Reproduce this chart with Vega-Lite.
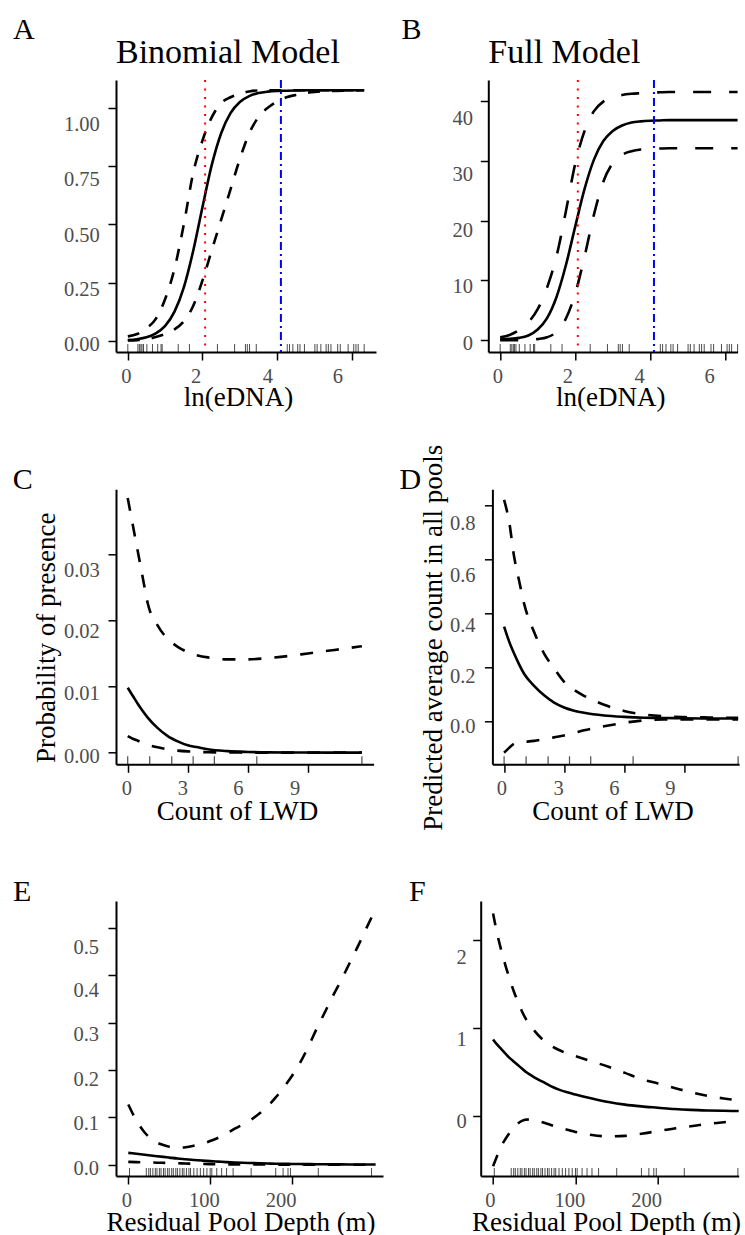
{
  "$schema": "https://vega.github.io/schema/vega-lite/v6.json",
  "background": "white",
  "padding": {"left": 12, "top": 14, "right": 0, "bottom": 0},
  "spacing": 32.3,
  "datasets": {
    "A": [
      {"x":0,"fit":0.004,"lo":0.002,"hi":0.02},
      {"x":0.25,"fit":0.008,"lo":0.004,"hi":0.03},
      {"x":0.5,"fit":0.016,"lo":0.008,"hi":0.055},
      {"x":0.75,"fit":0.033,"lo":0.017,"hi":0.095},
      {"x":1,"fit":0.065,"lo":0.03,"hi":0.18},
      {"x":1.25,"fit":0.126,"lo":0.05,"hi":0.31},
      {"x":1.5,"fit":0.23,"lo":0.085,"hi":0.5},
      {"x":1.75,"fit":0.386,"lo":0.15,"hi":0.72},
      {"x":2,"fit":0.575,"lo":0.26,"hi":0.86},
      {"x":2.25,"fit":0.756,"lo":0.39,"hi":0.96},
      {"x":2.5,"fit":0.891,"lo":0.52,"hi":1.02},
      {"x":2.75,"fit":0.977,"lo":0.65,"hi":1.045},
      {"x":3,"fit":1.025,"lo":0.78,"hi":1.06},
      {"x":3.25,"fit":1.05,"lo":0.89,"hi":1.07},
      {"x":3.5,"fit":1.063,"lo":0.96,"hi":1.074},
      {"x":3.75,"fit":1.069,"lo":1.0,"hi":1.075},
      {"x":4,"fit":1.072,"lo":1.027,"hi":1.075},
      {"x":4.25,"fit":1.073,"lo":1.045,"hi":1.075},
      {"x":4.5,"fit":1.074,"lo":1.055,"hi":1.075},
      {"x":4.75,"fit":1.075,"lo":1.063,"hi":1.075},
      {"x":5,"fit":1.075,"lo":1.068,"hi":1.075},
      {"x":5.5,"fit":1.075,"lo":1.072,"hi":1.075},
      {"x":6,"fit":1.075,"lo":1.074,"hi":1.075},
      {"x":6.33,"fit":1.075,"lo":1.075,"hi":1.075}
    ],
    "B": [
      {"x":0,"fit":0.2,"lo":0.0,"hi":0.5},
      {"x":0.25,"fit":0.25,"lo":0.0,"hi":0.9},
      {"x":0.5,"fit":0.4,"lo":0.0,"hi":1.7},
      {"x":0.75,"fit":0.8,"lo":0.05,"hi":3.0},
      {"x":1,"fit":1.8,"lo":0.2,"hi":5.2},
      {"x":1.25,"fit":3.7,"lo":0.5,"hi":8.8},
      {"x":1.5,"fit":7.2,"lo":1.4,"hi":14.0},
      {"x":1.75,"fit":12.5,"lo":3.6,"hi":21.5},
      {"x":2,"fit":19.0,"lo":7.8,"hi":29.5},
      {"x":2.25,"fit":25.3,"lo":14.0,"hi":35.0},
      {"x":2.5,"fit":30.2,"lo":21.0,"hi":38.3},
      {"x":2.75,"fit":33.3,"lo":26.5,"hi":39.9},
      {"x":3,"fit":35.0,"lo":29.6,"hi":40.6},
      {"x":3.25,"fit":35.9,"lo":31.0,"hi":41.0},
      {"x":3.5,"fit":36.4,"lo":31.6,"hi":41.2},
      {"x":3.75,"fit":36.6,"lo":31.9,"hi":41.3},
      {"x":4,"fit":36.7,"lo":32.0,"hi":41.4},
      {"x":4.25,"fit":36.75,"lo":32.05,"hi":41.45},
      {"x":4.5,"fit":36.8,"lo":32.1,"hi":41.5},
      {"x":5,"fit":36.8,"lo":32.1,"hi":41.5},
      {"x":5.5,"fit":36.8,"lo":32.1,"hi":41.5},
      {"x":6,"fit":36.8,"lo":32.1,"hi":41.5},
      {"x":6.33,"fit":36.8,"lo":32.1,"hi":41.5}
    ],
    "C": [
      {"x":0,"fit":0.0098,"lo":0.0025,"hi":0.0385},
      {"x":0.25,"fit":0.0086,"lo":0.0021,"hi":0.0345},
      {"x":0.5,"fit":0.0074,"lo":0.0018,"hi":0.0305},
      {"x":0.75,"fit":0.0063,"lo":0.0015,"hi":0.0265},
      {"x":1,"fit":0.0053,"lo":0.0012,"hi":0.0226},
      {"x":1.5,"fit":0.0037,"lo":0.0008,"hi":0.0192},
      {"x":2,"fit":0.0025,"lo":0.0005,"hi":0.0172},
      {"x":2.5,"fit":0.0017,"lo":0.0003,"hi":0.016},
      {"x":3,"fit":0.0011,"lo":0.00018,"hi":0.0152},
      {"x":3.5,"fit":0.0008,"lo":0.0001,"hi":0.0147},
      {"x":4,"fit":0.0005,"lo":0.00006,"hi":0.0144},
      {"x":5,"fit":0.00022,"lo":0.00002,"hi":0.0141},
      {"x":6,"fit":0.0001,"lo":0.0,"hi":0.0141},
      {"x":7,"fit":0.00004,"lo":0.0,"hi":0.0143},
      {"x":8,"fit":0.00002,"lo":0.0,"hi":0.0146},
      {"x":9,"fit":0.00001,"lo":0.0,"hi":0.015},
      {"x":10,"fit":0.0,"lo":0.0,"hi":0.0154},
      {"x":11,"fit":0.0,"lo":0.0,"hi":0.0158},
      {"x":11.7,"fit":0.0,"lo":0.0,"hi":0.0161}
    ],
    "D": [
      {"x":0,"fit":0.35,"lo":-0.118,"hi":0.82},
      {"x":0.25,"fit":0.295,"lo":-0.1,"hi":0.74},
      {"x":0.5,"fit":0.25,"lo":-0.085,"hi":0.61},
      {"x":0.75,"fit":0.21,"lo":-0.08,"hi":0.52},
      {"x":1,"fit":0.175,"lo":-0.078,"hi":0.435},
      {"x":1.5,"fit":0.13,"lo":-0.074,"hi":0.33},
      {"x":2,"fit":0.095,"lo":-0.068,"hi":0.25},
      {"x":2.5,"fit":0.068,"lo":-0.061,"hi":0.195},
      {"x":3,"fit":0.05,"lo":-0.054,"hi":0.145},
      {"x":3.5,"fit":0.038,"lo":-0.045,"hi":0.115},
      {"x":4,"fit":0.03,"lo":-0.035,"hi":0.093},
      {"x":5,"fit":0.02,"lo":-0.02,"hi":0.06},
      {"x":6,"fit":0.015,"lo":-0.007,"hi":0.037},
      {"x":7,"fit":0.012,"lo":0.002,"hi":0.024},
      {"x":8,"fit":0.011,"lo":0.005,"hi":0.017},
      {"x":9,"fit":0.01,"lo":0.005,"hi":0.014},
      {"x":10,"fit":0.009,"lo":0.005,"hi":0.013},
      {"x":11,"fit":0.0088,"lo":0.005,"hi":0.012},
      {"x":11.7,"fit":0.0085,"lo":0.005,"hi":0.012}
    ],
    "E": [
      {"x":0,"fit":0.025,"lo":0.006,"hi":0.127},
      {"x":10,"fit":0.023,"lo":0.0055,"hi":0.093},
      {"x":20,"fit":0.021,"lo":0.005,"hi":0.068},
      {"x":30,"fit":0.019,"lo":0.0045,"hi":0.052},
      {"x":40,"fit":0.017,"lo":0.004,"hi":0.043},
      {"x":50,"fit":0.015,"lo":0.0035,"hi":0.038},
      {"x":60,"fit":0.013,"lo":0.003,"hi":0.036},
      {"x":70,"fit":0.0115,"lo":0.0025,"hi":0.037},
      {"x":80,"fit":0.01,"lo":0.002,"hi":0.04},
      {"x":90,"fit":0.0087,"lo":0.0016,"hi":0.044},
      {"x":100,"fit":0.0075,"lo":0.0012,"hi":0.05},
      {"x":110,"fit":0.0065,"lo":0.001,"hi":0.057},
      {"x":120,"fit":0.0055,"lo":0.0008,"hi":0.066},
      {"x":130,"fit":0.0047,"lo":0.0006,"hi":0.076},
      {"x":140,"fit":0.004,"lo":0.0005,"hi":0.085},
      {"x":150,"fit":0.0035,"lo":0.0004,"hi":0.095},
      {"x":160,"fit":0.003,"lo":0.0003,"hi":0.108},
      {"x":170,"fit":0.0025,"lo":0.00025,"hi":0.123},
      {"x":180,"fit":0.002,"lo":0.0002,"hi":0.142},
      {"x":190,"fit":0.0018,"lo":0.00015,"hi":0.164},
      {"x":200,"fit":0.0015,"lo":0.0001,"hi":0.188},
      {"x":210,"fit":0.0013,"lo":0.0001,"hi":0.216},
      {"x":220,"fit":0.0011,"lo":0.0001,"hi":0.25},
      {"x":230,"fit":0.001,"lo":0.0,"hi":0.287},
      {"x":240,"fit":0.0008,"lo":0.0,"hi":0.322},
      {"x":250,"fit":0.0007,"lo":0.0,"hi":0.357},
      {"x":260,"fit":0.0006,"lo":0.0,"hi":0.39},
      {"x":270,"fit":0.0005,"lo":0.0,"hi":0.425},
      {"x":280,"fit":0.0004,"lo":0.0,"hi":0.46},
      {"x":290,"fit":0.0004,"lo":0.0,"hi":0.497},
      {"x":302,"fit":0.0003,"lo":0.0,"hi":0.54}
    ],
    "F": [
      {"x":0,"fit":0.87,"lo":-0.57,"hi":2.3},
      {"x":5,"fit":0.81,"lo":-0.45,"hi":2.07},
      {"x":10,"fit":0.76,"lo":-0.34,"hi":1.88},
      {"x":15,"fit":0.71,"lo":-0.26,"hi":1.71},
      {"x":20,"fit":0.66,"lo":-0.19,"hi":1.56},
      {"x":25,"fit":0.62,"lo":-0.13,"hi":1.42},
      {"x":30,"fit":0.58,"lo":-0.085,"hi":1.3},
      {"x":35,"fit":0.54,"lo":-0.055,"hi":1.19},
      {"x":40,"fit":0.5,"lo":-0.04,"hi":1.1},
      {"x":45,"fit":0.47,"lo":-0.038,"hi":1.03},
      {"x":50,"fit":0.44,"lo":-0.045,"hi":0.97},
      {"x":60,"fit":0.39,"lo":-0.07,"hi":0.87},
      {"x":70,"fit":0.34,"lo":-0.1,"hi":0.8},
      {"x":80,"fit":0.3,"lo":-0.13,"hi":0.75},
      {"x":90,"fit":0.27,"lo":-0.155,"hi":0.71},
      {"x":100,"fit":0.245,"lo":-0.18,"hi":0.68},
      {"x":120,"fit":0.2,"lo":-0.215,"hi":0.62},
      {"x":140,"fit":0.16,"lo":-0.23,"hi":0.56},
      {"x":160,"fit":0.13,"lo":-0.225,"hi":0.49},
      {"x":180,"fit":0.11,"lo":-0.2,"hi":0.42},
      {"x":200,"fit":0.095,"lo":-0.17,"hi":0.37},
      {"x":220,"fit":0.08,"lo":-0.14,"hi":0.32},
      {"x":240,"fit":0.07,"lo":-0.115,"hi":0.27},
      {"x":260,"fit":0.064,"lo":-0.09,"hi":0.23},
      {"x":280,"fit":0.06,"lo":-0.07,"hi":0.2},
      {"x":298,"fit":0.057,"lo":-0.05,"hi":0.18}
    ],
    "rugAB": [
      {"x":0},{"x":0.27},{"x":0.31},{"x":0.35},{"x":0.38},{"x":0.42},{"x":0.51},{"x":0.66},{"x":0.8},{"x":0.89},{"x":0.92},{"x":1.35},{"x":1.65},{"x":2.4},{"x":2.86},{"x":3.15},{"x":3.2},{"x":3.26},{"x":3.44},{"x":4.27},{"x":4.33},{"x":4.42},{"x":4.55},{"x":4.61},{"x":4.73},{"x":5.01},{"x":5.07},{"x":5.17},{"x":5.31},{"x":5.37},{"x":5.44},{"x":5.62},{"x":5.69},{"x":5.9},{"x":6.05},{"x":6.11},{"x":6.17},{"x":6.33}
    ],
    "rugCD": [
      {"x":0},{"x":1.1},{"x":2.2},{"x":3.27},{"x":4.33},{"x":6.45},{"x":11.7}
    ],
    "rugEF": [
      {"x":1.5},{"x":22},{"x":25},{"x":27},{"x":30},{"x":33},{"x":35},{"x":38},{"x":40},{"x":43},{"x":45},{"x":48},{"x":50},{"x":53},{"x":55},{"x":58},{"x":60},{"x":63},{"x":66},{"x":68},{"x":71},{"x":74},{"x":76},{"x":80},{"x":84},{"x":88},{"x":92},{"x":96},{"x":100},{"x":102},{"x":108},{"x":114},{"x":120},{"x":128},{"x":150},{"x":180},{"x":189},{"x":195},{"x":198},{"x":232},{"x":297}
    ],
    "vRed": [{"x": 2.07}],
    "vBlue": [{"x": 4.1}]
  },
  "vconcat": [
    {
      "spacing": 25.3,
      "hconcat": [
        {
          "title": {"text": "A", "fontSize": 30, "dx": -103, "offset": -9},
          "vconcat": [
            {
              "width": 260, "height": 272,
              "title": {"text": "Binomial Model", "fontSize": 34, "offset": 9.5},
              "encoding": {
                "x": {"field": "x", "type": "quantitative", "scale": {"domain": [-0.3165, 6.6465], "nice": false, "zero": false},
                      "axis": {"title": "ln(eDNA)", "values": [0, 2, 4, 6], "format": "d", "titleX": 122, "titleY": 53.5, "titleBaseline": "alphabetic",
                               "labelOffset": {"condition": [{"test": "datum.value === 2", "value": -6.8}, {"test": "datum.value === 4", "value": -9.8}, {"test": "datum.value === 6", "value": -14.5}], "value": -2}}}
              },
              "layer": [
                {"data": {"name": "A"}, "mark": {"type": "line", "color": "black", "strokeWidth": 2.6, "strokeDash": [12, 12], "interpolate": "monotone"},
                 "encoding": {
                   "y": {"field": "hi", "type": "quantitative", "scale": {"domain": [-0.047, 1.119], "nice": false, "zero": false},
                         "axis": {"title": null, "values": [0, 0.25, 0.5, 0.75, 1], "format": ".2f", "labelPadding": 8.7,
                                  "labelOffset": {"condition": [{"test": "datum.value === 0.25", "value": 6.5}, {"test": "datum.value === 0.5", "value": 10.8}, {"test": "datum.value === 0.75", "value": 13.8}, {"test": "datum.value === 1", "value": 16.8}], "value": 3.5}}}}},
                {"data": {"name": "A"}, "mark": {"type": "line", "color": "black", "strokeWidth": 2.6, "strokeDash": [12, 12], "interpolate": "monotone"},
                 "encoding": {"y": {"field": "lo", "type": "quantitative", "axis": {"title": null}}}},
                {"data": {"name": "A"}, "mark": {"type": "line", "color": "black", "strokeWidth": 2.6, "interpolate": "monotone"},
                 "encoding": {"y": {"field": "fit", "type": "quantitative", "axis": {"title": null}}}},
                {"data": {"name": "rugAB"}, "mark": {"type": "tick", "orient": "vertical", "size": 8, "thickness": 1, "color": "black", "yOffset": -4},
                 "encoding": {"y": {"value": "height"}}},
                {"data": {"name": "vRed"}, "mark": {"type": "rule", "color": "#ff0000", "strokeWidth": 2, "strokeDash": [2, 6.5]}, "encoding": {}},
                {"data": {"name": "vBlue"}, "mark": {"type": "rule", "color": "#0000ff", "strokeWidth": 2, "strokeDash": [8, 4, 2, 4]}, "encoding": {}}
              ]
            }
          ]
        },
        {
          "title": {"text": "B", "fontSize": 30, "dx": -86.7, "offset": -9},
          "vconcat": [
            {
              "width": 249.3, "height": 272,
              "title": {"text": "Full Model", "fontSize": 34, "offset": 9.5},
              "encoding": {
                "x": {"field": "x", "type": "quantitative", "scale": {"domain": [-0.3165, 6.33], "nice": false, "zero": false},
                      "axis": {"title": "ln(eDNA)", "values": [0, 2, 4, 6], "format": "d", "titleX": 122, "titleY": 53.5, "titleBaseline": "alphabetic",
                               "labelOffset": {"condition": [{"test": "datum.value === 2", "value": -7.9}, {"test": "datum.value === 4", "value": -11.2}, {"test": "datum.value === 6", "value": -16.2}], "value": -2.9}}}
              },
              "layer": [
                {"data": {"name": "B"}, "mark": {"type": "line", "color": "black", "strokeWidth": 2.6, "strokeDash": [18, 18], "interpolate": "monotone"},
                 "encoding": {
                   "y": {"field": "hi", "type": "quantitative", "scale": {"domain": [-1.956, 43.51], "nice": false, "zero": false},
                         "axis": {"title": null, "values": [0, 10, 20, 30, 40], "format": "d", "labelPadding": 7.7,
                                  "labelOffset": {"condition": [{"test": "datum.value === 10", "value": 5.8}, {"test": "datum.value === 20", "value": 10.1}, {"test": "datum.value === 30", "value": 13.2}, {"test": "datum.value === 40", "value": 17.8}], "value": 3.2}}}}},
                {"data": {"name": "B"}, "mark": {"type": "line", "color": "black", "strokeWidth": 2.6, "strokeDash": [18, 18], "interpolate": "monotone"},
                 "encoding": {"y": {"field": "lo", "type": "quantitative", "axis": {"title": null}}}},
                {"data": {"name": "B"}, "mark": {"type": "line", "color": "black", "strokeWidth": 2.6, "interpolate": "monotone"},
                 "encoding": {"y": {"field": "fit", "type": "quantitative", "axis": {"title": null}}}},
                {"data": {"name": "rugAB"}, "mark": {"type": "tick", "orient": "vertical", "size": 8, "thickness": 1, "color": "black", "yOffset": -4},
                 "encoding": {"y": {"value": "height"}}},
                {"data": {"name": "vRed"}, "mark": {"type": "rule", "color": "#ff0000", "strokeWidth": 2, "strokeDash": [2, 6.5]}, "encoding": {}},
                {"data": {"name": "vBlue"}, "mark": {"type": "rule", "color": "#0000ff", "strokeWidth": 2, "strokeDash": [8, 4, 2, 4]}, "encoding": {}}
              ]
            }
          ]
        }
      ]
    },
    {
      "spacing": 44.7,
      "vconcat": [
        {
          "spacing": 118.4,
          "bounds": "flush",
          "hconcat": [
            {
              "width": 257.6, "height": 275,
              "title": {"text": "C", "fontSize": 30, "dx": -103.3, "offset": -5.6},
              "encoding": {
                "x": {"field": "x", "type": "quantitative", "scale": {"domain": [-0.585, 12.285], "nice": false, "zero": false},
                      "axis": {"title": "Count of LWD", "values": [0, 3, 6, 9], "format": "d", "titleX": 121, "titleY": 55.5, "titleBaseline": "alphabetic",
                               "labelOffset": {"condition": [{"test": "datum.value === 3", "value": -5.4}, {"test": "datum.value === 6", "value": -9.9}, {"test": "datum.value === 9", "value": -13.3}], "value": -1.3}}}
              },
              "layer": [
                {"data": {"name": "C"}, "mark": {"type": "line", "color": "black", "strokeWidth": 2.6, "strokeDash": [13, 13], "interpolate": "monotone"},
                 "encoding": {
                   "y": {"field": "hi", "type": "quantitative", "scale": {"domain": [-0.00177, 0.03983], "nice": false, "zero": false},
                         "axis": {"title": "Probability of presence", "values": [0, 0.01, 0.02, 0.03], "format": ".2f", "labelPadding": 8.7,
                                  "labelOffset": {"condition": [{"test": "datum.value === 0.01", "value": 6.8}, {"test": "datum.value === 0.02", "value": 10.8}, {"test": "datum.value === 0.03", "value": 15.8}], "value": 4.1},
                                  "titleX": -62, "titleY": 148, "titleBaseline": "alphabetic", "titleAngle": 270, "titleAlign": "center"}}}},
                {"data": {"name": "C"}, "mark": {"type": "line", "color": "black", "strokeWidth": 2.6, "strokeDash": [13, 13], "interpolate": "monotone"},
                 "encoding": {"y": {"field": "lo", "type": "quantitative", "axis": {"title": "Probability of presence"}}}},
                {"data": {"name": "C"}, "mark": {"type": "line", "color": "black", "strokeWidth": 2.6, "interpolate": "monotone"},
                 "encoding": {"y": {"field": "fit", "type": "quantitative", "axis": {"title": "Probability of presence"}}}},
                {"data": {"name": "rugCD"}, "mark": {"type": "tick", "orient": "vertical", "size": 8, "thickness": 1.2, "color": "black", "yOffset": -4},
                 "encoding": {"y": {"value": "height"}}}
              ]
            },
            {
              "width": 246.7, "height": 275,
              "title": {"text": "D", "fontSize": 30, "dx": -93, "offset": -50.5},
              "encoding": {
                "x": {"field": "x", "type": "quantitative", "scale": {"domain": [-0.585, 11.75], "nice": false, "zero": false},
                      "axis": {"title": "Count of LWD", "values": [0, 3, 6, 9], "format": "d", "titleX": 120, "titleY": 55.5, "titleBaseline": "alphabetic",
                               "labelOffset": {"condition": [{"test": "datum.value === 3", "value": -6}, {"test": "datum.value === 6", "value": -10.3}, {"test": "datum.value === 9", "value": -14.3}], "value": -2.7}}}
              },
              "layer": [
                {"data": {"name": "D"}, "mark": {"type": "line", "color": "black", "strokeWidth": 2.6, "strokeDash": [13, 13], "interpolate": "monotone"},
                 "encoding": {
                   "y": {"field": "hi", "type": "quantitative", "scale": {"domain": [-0.161, 0.8594], "nice": false, "zero": false},
                         "axis": {"title": "Predicted average count in all pools", "values": [0, 0.2, 0.4, 0.6, 0.8], "format": ".1f", "labelPadding": 9.3,
                                  "labelOffset": {"condition": [{"test": "datum.value === 0.2", "value": 9.1}, {"test": "datum.value === 0.4", "value": 12.8}, {"test": "datum.value === 0.6", "value": 15.8}, {"test": "datum.value === 0.8", "value": 18.1}], "value": 5.8},
                                  "titleX": -51, "titleY": 148, "titleBaseline": "alphabetic", "titleAngle": 270, "titleAlign": "center"}}}},
                {"data": {"name": "D"}, "mark": {"type": "line", "color": "black", "strokeWidth": 2.6, "strokeDash": [13, 13], "interpolate": "monotone"},
                 "encoding": {"y": {"field": "lo", "type": "quantitative", "axis": {"title": "Predicted average count in all pools"}}}},
                {"data": {"name": "D"}, "mark": {"type": "line", "color": "black", "strokeWidth": 2.6, "interpolate": "monotone"},
                 "encoding": {"y": {"field": "fit", "type": "quantitative", "axis": {"title": "Predicted average count in all pools"}}}},
                {"data": {"name": "rugCD"}, "mark": {"type": "tick", "orient": "vertical", "size": 8, "thickness": 1.2, "color": "black", "yOffset": -4},
                 "encoding": {"y": {"value": "height"}}}
              ]
            }
          ]
        },
        {
          "spacing": 97.7,
          "bounds": "flush",
          "hconcat": [
            {
              "width": 267, "height": 275,
              "title": {"text": "E", "fontSize": 30, "dx": -103, "offset": -5.6},
              "encoding": {
                "x": {"field": "x", "type": "quantitative", "scale": {"domain": [-15, 311], "nice": false, "zero": false},
                      "axis": {"title": "Residual Pool Depth (m)", "values": [0, 100, 200], "format": "d", "titleX": 124.5, "titleY": 54.3, "titleBaseline": "alphabetic",
                               "labelOffset": {"condition": [{"test": "datum.value === 100", "value": -6.2}, {"test": "datum.value === 200", "value": -11.4}], "value": -1.9}}}
              },
              "layer": [
                {"data": {"name": "E"}, "mark": {"type": "line", "color": "black", "strokeWidth": 2.6, "strokeDash": [12, 13], "interpolate": "monotone"},
                 "encoding": {
                   "y": {"field": "hi", "type": "quantitative", "scale": {"domain": [-0.0239, 0.557], "nice": false, "zero": false},
                         "axis": {"title": null, "values": [0, 0.1, 0.2, 0.3, 0.4, 0.5], "format": ".1f", "labelPadding": 9.4,
                                  "labelOffset": {"condition": [{"test": "datum.value === 0.1", "value": 6.5}, {"test": "datum.value === 0.2", "value": 9.5}, {"test": "datum.value === 0.3", "value": 12.2}, {"test": "datum.value === 0.4", "value": 14.8}, {"test": "datum.value === 0.5", "value": 19.1}], "value": 3.4}}}}},
                {"data": {"name": "E"}, "mark": {"type": "line", "color": "black", "strokeWidth": 2.6, "strokeDash": [12, 13], "interpolate": "monotone"},
                 "encoding": {"y": {"field": "lo", "type": "quantitative", "axis": {"title": null}}}},
                {"data": {"name": "E"}, "mark": {"type": "line", "color": "black", "strokeWidth": 2.6, "interpolate": "monotone"},
                 "encoding": {"y": {"field": "fit", "type": "quantitative", "axis": {"title": null}}}},
                {"data": {"name": "rugEF"}, "mark": {"type": "tick", "orient": "vertical", "size": 8, "thickness": 1, "color": "black", "yOffset": -4},
                 "encoding": {"y": {"value": "height"}}}
              ]
            },
            {
              "width": 258, "height": 275,
              "title": {"text": "F", "fontSize": 30, "dx": -71.7, "offset": -5.6},
              "encoding": {
                "x": {"field": "x", "type": "quantitative", "scale": {"domain": [-15, 298], "nice": false, "zero": false},
                      "axis": {"title": "Residual Pool Depth (m)", "values": [0, 100, 200], "format": "d", "titleX": 125.3, "titleY": 54.3, "titleBaseline": "alphabetic",
                               "labelOffset": {"condition": [{"test": "datum.value === 100", "value": -6.1}, {"test": "datum.value === 200", "value": -11.9}], "value": -3.1}}}
              },
              "layer": [
                {"data": {"name": "F"}, "mark": {"type": "line", "color": "black", "strokeWidth": 2.6, "strokeDash": [12, 13], "interpolate": "monotone"},
                 "encoding": {
                   "y": {"field": "hi", "type": "quantitative", "scale": {"domain": [-0.68, 2.441], "nice": false, "zero": false},
                         "axis": {"title": null, "values": [0, 1, 2], "format": "d", "labelPadding": 6.4,
                                  "labelOffset": {"condition": [{"test": "datum.value === 1", "value": 11.5}, {"test": "datum.value === 2", "value": 18.1}], "value": 5.8}}}}},
                {"data": {"name": "F"}, "mark": {"type": "line", "color": "black", "strokeWidth": 2.6, "strokeDash": [12, 13], "interpolate": "monotone"},
                 "encoding": {"y": {"field": "lo", "type": "quantitative", "axis": {"title": null}}}},
                {"data": {"name": "F"}, "mark": {"type": "line", "color": "black", "strokeWidth": 2.6, "interpolate": "monotone"},
                 "encoding": {"y": {"field": "fit", "type": "quantitative", "axis": {"title": null}}}},
                {"data": {"name": "rugEF"}, "mark": {"type": "tick", "orient": "vertical", "size": 8, "thickness": 1, "color": "black", "yOffset": -4},
                 "encoding": {"y": {"value": "height"}}}
              ]
            }
          ]
        }
      ]
    }
  ],
  "config": {
    "view": {"stroke": null},
    "font": "Liberation Serif",
    "axis": {
      "grid": false,
      "domainColor": "#000000", "domainWidth": 2,
      "tickColor": "#000000", "tickWidth": 1.5, "tickSize": 8,
      "labelFont": "Liberation Serif", "labelFontSize": 20.5, "labelColor": "#4d4d4d", "labelPadding": 6, "labelFlush": false,
      "titleFont": "Liberation Serif", "titleFontSize": 27, "titleFontWeight": "normal", "titleColor": "#000000"
    },
    "title": {"font": "Liberation Serif", "fontWeight": "normal", "color": "#000000", "anchor": "start", "frame": "group"}
  }
}
